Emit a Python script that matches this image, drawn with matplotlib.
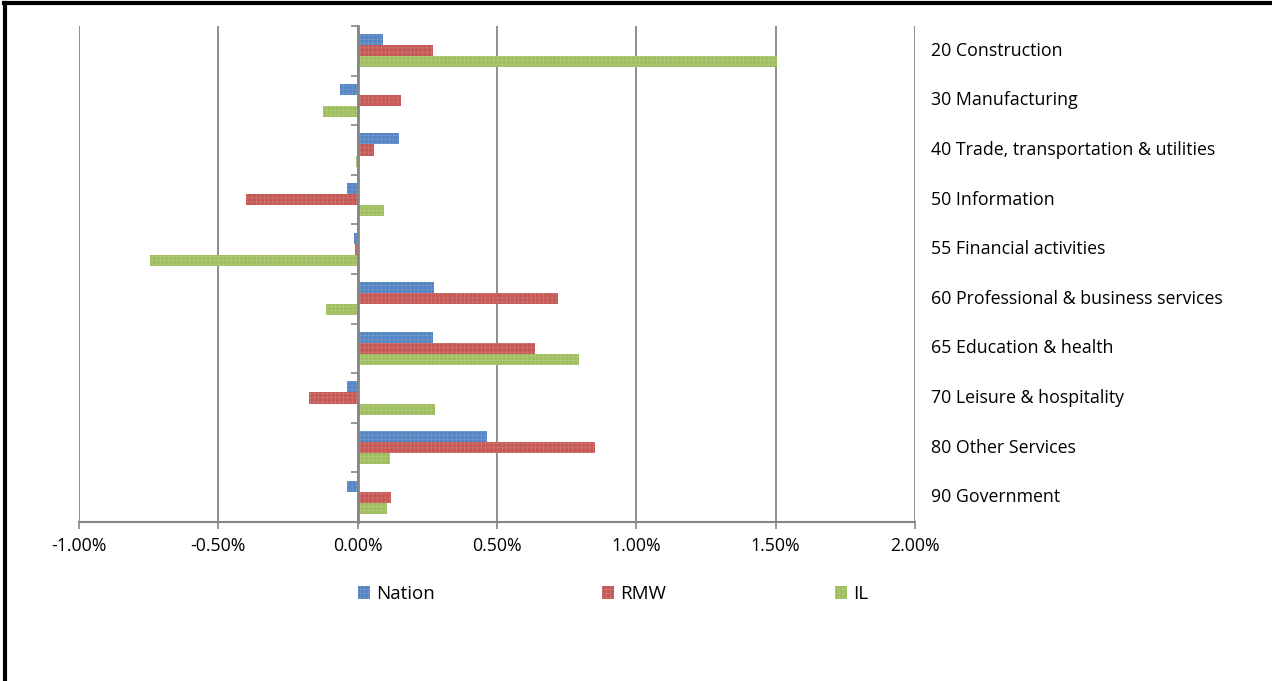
import numpy as np
import matplotlib.pyplot as plt
from matplotlib.lines import Line2D
from matplotlib.patches import Patch
from matplotlib.ticker import FuncFormatter

plt.rcParams['font.family'] = ['Open Sans', 'DejaVu Sans']
plt.rcParams['hatch.linewidth'] = 0.3

# 行业分类与三组数据 (单位: %)
categories = [
    '20 Construction',
    '30 Manufacturing',
    '40 Trade, transportation & utilities',
    '50 Information',
    '55 Financial activities',
    '60 Professional & business services',
    '65 Education & health',
    '70 Leisure & hospitality',
    '80 Other Services',
    '90 Government',
]
nation = [0.090, -0.065, 0.147, -0.040, -0.014, 0.273, 0.270, -0.040, 0.463, -0.040]
rmw = [0.270, 0.155, 0.057, -0.400, -0.010, 0.720, 0.635, -0.176, 0.850, 0.118]
il = [1.505, -0.125, -0.007, 0.093, -0.746, -0.115, 0.793, 0.276, 0.115, 0.104]

series = [
    ('Nation', nation, '#5585C2', '#7FA3D3'),
    ('RMW', rmw, '#C55855', '#D78784'),
    ('IL', il, '#9FBE5F', '#B9D08A'),
]

fig = plt.figure(figsize=(12.72, 6.81), dpi=100)
ax = fig.add_axes([79 / 1272, 1 - 522 / 681, (915 - 79) / 1272, (522 - 26) / 681])

y = np.arange(len(categories))
h = 0.222
grid_c = '#868686'

for k, (name, vals, col, hcol) in enumerate(series):
    ax.barh(y + (k - 1) * h, vals, height=h, color=col, edgecolor=hcol,
            linewidth=0, hatch='++++', zorder=3)

ax.set_xlim(-1.0, 2.0)
ax.set_ylim(len(categories) - 0.5, -0.5)
ax.set_xticks(np.arange(-1.0, 2.01, 0.5))
ax.xaxis.set_major_formatter(FuncFormatter(lambda v, p: f'{v:.2f}%'))
ax.tick_params(axis='x', direction='out', length=5, width=1.2, color=grid_c,
               labelsize=12.8, pad=6)
ax.grid(axis='x', color=grid_c, linewidth=1.3, zorder=0)

# 纵轴放在 0 处, 刻度落在分类边界
for s in ['top', 'right']:
    ax.spines[s].set_visible(False)
ax.spines['left'].set_position(('data', 0))
ax.spines['left'].set_color(grid_c)
ax.spines['left'].set_linewidth(2)
ax.spines['left'].set_zorder(4)
ax.spines['bottom'].set_color(grid_c)
ax.spines['bottom'].set_linewidth(1.5)
ax.set_yticks(np.arange(-0.5, len(categories), 1.0))
ax.set_yticklabels([])
ax.tick_params(axis='y', direction='out', length=5, width=1.2, color=grid_c)

# 分类名称写在绘图区右侧
for i, lab in enumerate(categories):
    ax.text(1.0 + 16 / 836, i, lab, transform=ax.get_yaxis_transform(),
            ha='left', va='center', fontsize=12.8)

# 图例: 每项单独放置
legend_x = [358, 602, 835]
for (name, _, col, hcol), lx in zip(series, legend_x):
    hd = Patch(facecolor=col, edgecolor=hcol, linewidth=0, hatch='++++', label=name)
    fig.legend(handles=[hd], loc='center left', bbox_to_anchor=(lx / 1272, 1 - 594 / 681),
               frameon=False, fontsize=13.5, handlelength=0.64, handleheight=0.64,
               handletextpad=0.32, borderpad=0, borderaxespad=0)

# 外框 (上边与左边)
fig.add_artist(Line2D([4 / 1272, 1], [1 - 3 / 681, 1 - 3 / 681], color='black', lw=3))
fig.add_artist(Line2D([5 / 1272, 5 / 1272], [0, 1 - 3 / 681], color='black', lw=3))

plt.savefig('out.png', dpi=100)
